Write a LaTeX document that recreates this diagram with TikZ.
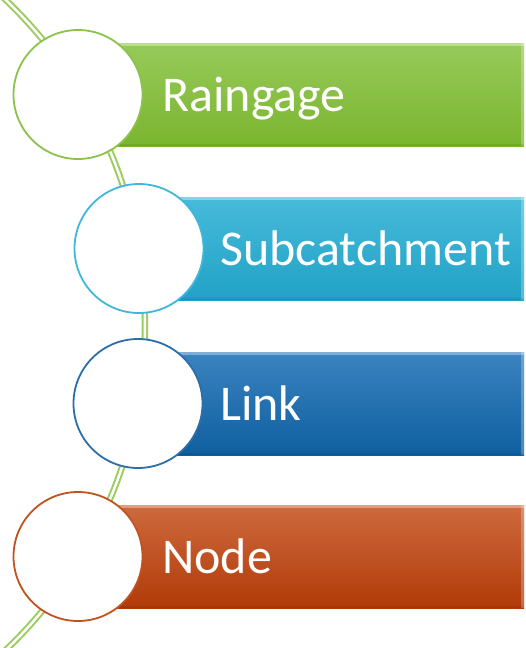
\documentclass[tikz,border=0pt]{standalone}
\usepackage{fontspec}
\setmainfont{Carlito}
\begin{document}
\begin{tikzpicture}[x=1pt,y=-1pt,
  disc/.style={circle, draw, line width=1.8pt, fill=white, minimum size=129pt, inner sep=0pt},
  label/.style={anchor=base west, text=white, font=\fontsize{50}{60}\selectfont, inner sep=0pt}]
\definecolor{gTop}{HTML}{97CA5A}\definecolor{gBot}{HTML}{7AB52F}\definecolor{gLine}{HTML}{8CC24B}
\definecolor{cTop}{HTML}{47BAD9}\definecolor{cBot}{HTML}{20A2C6}\definecolor{cLine}{HTML}{40B6DA}
\definecolor{bTop}{HTML}{3B83C1}\definecolor{bBot}{HTML}{0F5F9F}\definecolor{bLine}{HTML}{2C6EA8}
\definecolor{oTop}{HTML}{CE6A3E}\definecolor{oBot}{HTML}{B13A08}\definecolor{oLine}{HTML}{C0521F}
\definecolor{trail}{HTML}{9BCD5E}
\useasboundingbox (0,0) rectangle (525,648);
\begin{scope}
  \clip (0,0) rectangle (525,648);
  % curved double trail running behind the discs
  \draw[trail, line width=6.5pt] (-304,325) circle[radius=449];
  \draw[white, line width=2.5pt] (-304,325) circle[radius=449];
  % coloured bars
  \foreach \cx/\cy/\ct/\cb in {78/94.5/gTop/gBot, 139/248.5/cTop/cBot, 138/403.5/bTop/bBot, 78/556.5/oTop/oBot}{
    \shade[top color=\ct, bottom color=\cb] (\cx,\cy-51.5) rectangle (524,\cy+51.5);
    \fill[white, opacity=0.35] (\cx,\cy-51.5) rectangle (524,\cy-48.5);
    \fill[white, opacity=0.25] (521,\cy-51.5) rectangle (524,\cy+51.5);
    \fill[black, opacity=0.08] (\cx,\cy+49.5) rectangle (524,\cy+51.5);
  }
\end{scope}
% discs
\node[disc, draw=gLine] (d1) at (78,94.5) {};
\node[disc, draw=cLine] (d2) at (139,248.5) {};
\node[disc, draw=bLine] (d3) at (138,403.5) {};
\node[disc, draw=oLine] (d4) at (78,556.5) {};
% labels
\node[label] (t1) at (162,111) {Raingage};
\node[label] (t2) at (220,265) {Subcatchment};
\node[label] (t3) at (220,420) {Link};
\node[label] (t4) at (162,573) {Node};
\end{tikzpicture}
\end{document}
